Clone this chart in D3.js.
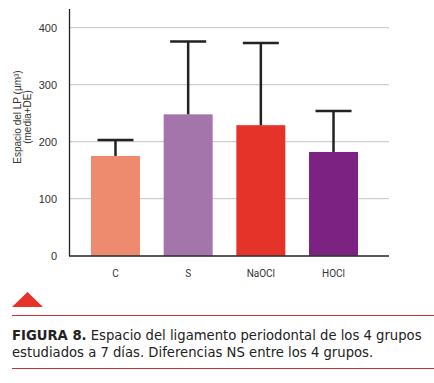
<!DOCTYPE html>
<html><head><meta charset="utf-8">
<script src="https://cdn.jsdelivr.net/npm/d3@7"></script>
<style>body{margin:0;background:#fff}svg{display:block}</style>
</head><body>
<script>
const categories = ["C", "S", "NaOCl", "HOCl"];
const means = [175, 248, 229, 182];
const errorTops = [203, 376, 373, 254];
const colors = ["#EE8A6E", "#A375AB", "#E6332A", "#7B2282"];
const yTicks = [0, 100, 200, 300, 400];

const W = 434, H = 383;
const svg = d3.select("body").append("svg").attr("width", W).attr("height", H);

const y = d3.scaleLinear().domain([0, 400]).range([255.7, 27.7]);
const step = 72.7;
const x = d3.scaleBand().domain(categories)
  .range([91 - 0.3 * step, 358 + 0.3 * step])
  .paddingInner(0.326).paddingOuter(0.3);

// gridlines
svg.append("g").selectAll("line").data(yTicks.filter(d => d > 0)).join("line")
  .attr("x1", 69).attr("x2", 389)
  .attr("y1", d => y(d)).attr("y2", d => y(d))
  .attr("stroke", "#c4c4c4").attr("stroke-width", 1);

// bars
svg.append("g").selectAll("rect").data(categories).join("rect")
  .attr("x", d => x(d)).attr("width", x.bandwidth())
  .attr("y", (d, i) => y(means[i])).attr("height", (d, i) => y(0) - y(means[i]))
  .attr("fill", (d, i) => colors[i]);

// error bars
const eb = svg.append("g").attr("stroke", "#222").attr("stroke-width", 2.5);
categories.forEach((c, i) => {
  const cx = x(c) + x.bandwidth() / 2;
  eb.append("line").attr("x1", cx).attr("x2", cx).attr("y1", y(means[i])).attr("y2", y(errorTops[i]));
  eb.append("line").attr("x1", cx - 18).attr("x2", cx + 18).attr("y1", y(errorTops[i])).attr("y2", y(errorTops[i]));
});

// axes lines
svg.append("line").attr("x1", 69.5).attr("x2", 69.5).attr("y1", 9).attr("y2", 256).attr("stroke", "#222").attr("stroke-width", 1.3);
svg.append("line").attr("x1", 69).attr("x2", 389).attr("y1", 256).attr("y2", 256).attr("stroke", "#222").attr("stroke-width", 1.3);

// y tick labels
svg.append("g").selectAll("text").data(yTicks).join("text")
  .attr("x", 57).attr("y", d => y(d)).attr("dy", "0.35em")
  .attr("text-anchor", "end").attr("font-family", "Liberation Sans, Arial, sans-serif")
  .attr("font-size", 11).attr("fill", "#333").text(d => d);

// x labels
svg.append("g").selectAll("text").data(categories).join("text")
  .attr("x", d => x(d) + x.bandwidth() / 2).attr("y", 277)
  .attr("text-anchor", "middle").attr("font-family", "Roboto, Liberation Sans, sans-serif")
  .attr("font-size", 10).attr("fill", "#333").text(d => d);

// y axis title
const yt = svg.append("text").attr("transform", "translate(20.5,117) rotate(-90)")
  .attr("text-anchor", "middle").attr("font-family", "Liberation Sans, Arial, sans-serif")
  .attr("font-size", 10).attr("fill", "#333");
yt.append("tspan").attr("x", 0).attr("y", 0).text("Espacio del LP (µm³)");
yt.append("tspan").attr("x", 0).attr("y", 10).text("(media+DE)");

// caption decoration
svg.append("path").attr("d", "M12,307 L27.5,292 L43,307 Z").attr("fill", "#E6332A");
svg.append("line").attr("x1", 12).attr("x2", 434).attr("y1", 315.5).attr("y2", 315.5).attr("stroke", "#C8323A").attr("stroke-width", 1);
svg.append("line").attr("x1", 12).attr("x2", 434).attr("y1", 368.5).attr("y2", 368.5).attr("stroke", "#C8323A").attr("stroke-width", 1);

const cap = svg.append("text").attr("font-family", "DejaVu Sans, sans-serif").attr("font-size", 13.2).attr("fill", "#222");
const l1 = cap.append("tspan").attr("x", 12).attr("y", 340);
l1.append("tspan").attr("font-weight", "bold").text("FIGURA 8.");
l1.append("tspan").text(" Espacio del ligamento periodontal de los 4 grupos");
cap.append("tspan").attr("x", 12).attr("y", 357).text("estudiados a 7 días. Diferencias NS entre los 4 grupos.");
</script>
</body></html>
